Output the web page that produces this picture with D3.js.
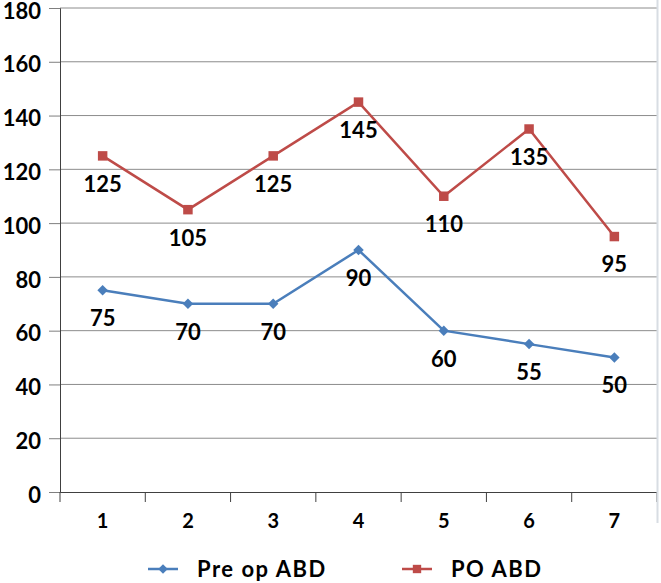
<!DOCTYPE html>
<html>
<head>
<meta charset="utf-8">
<script src="https://cdn.jsdelivr.net/npm/d3@7"></script>
<style>
  body { margin: 0; background: #fff; }
  svg text { font-family: "Comic Sans MS", Lato, "DejaVu Sans", sans-serif; font-weight: bold; fill: #000; }
</style>
</head>
<body>
<svg id="chart"></svg>
<script>
const categories = ["1", "2", "3", "4", "5", "6", "7"];
const preOp = [75, 70, 70, 90, 60, 55, 50];
const postOp = [125, 105, 125, 145, 110, 135, 95];
const yTicks = [0, 20, 40, 60, 80, 100, 120, 140, 160, 180];
const seriesNames = ["Pre op ABD", "PO ABD"];

const W = 661, H = 583;
const margin = {top: 8, right: 4, bottom: 91, left: 60};
const width = W - margin.left - margin.right;
const height = H - margin.top - margin.bottom;

const svg = d3.select("#chart").attr("width", W).attr("height", H);
const chart = svg.append("g").attr("transform", "translate(" + margin.left + "," + margin.top + ")");

const x = d3.scaleBand().domain(categories).range([0, width]);
const y = d3.scaleLinear().domain([0, 180]).range([height, 0]);

// gridlines
chart.append("g").selectAll("line")
  .data(yTicks.slice(1))
  .enter().append("line")
    .attr("x1", 0).attr("x2", width)
    .attr("y1", d => y(d)).attr("y2", d => y(d))
    .attr("stroke", "#8c8c8c").attr("stroke-width", 1);

// right border
svg.append("line")
  .attr("x1", W - 3.5).attr("x2", W - 3.5).attr("y1", 0).attr("y2", H - 60)
  .attr("stroke", "#d8dde3").attr("stroke-width", 2);

// y axis
const yAxis = chart.append("g")
  .call(d3.axisLeft(y).tickValues(yTicks).tickSize(11).tickPadding(8));
yAxis.select(".domain").attr("stroke", "#404040");
yAxis.selectAll(".tick line").attr("stroke", "#7f7f7f");
yAxis.selectAll("text").style("font-size", "22px").attr("dy", "0.46em");

// x axis
const xAxis = chart.append("g")
  .attr("transform", "translate(0," + height + ")")
  .call(d3.axisBottom(x).tickSize(0).tickPadding(22));
xAxis.select(".domain").attr("stroke", "#404040");
xAxis.selectAll("text").style("font-size", "20px");
chart.append("g").selectAll("line")
  .data(d3.range(categories.length + 1))
  .enter().append("line")
    .attr("x1", i => i * x.step()).attr("x2", i => i * x.step())
    .attr("y1", height).attr("y2", height + 10)
    .attr("stroke", "#404040");

const cx = d => x(d) + x.bandwidth() / 2;

function marker(sel, diamond, size) {
  sel.attr("d", d3.symbol().type(d3.symbolSquare).size(size))
    .attr("transform", function() {
      const t = d3.select(this).attr("transform") || "";
      return t + (diamond ? " rotate(45)" : "");
    });
}

function drawSeries(values, color, diamond, name) {
  const g = chart.append("g").attr("class", name);
  g.append("path")
    .datum(values)
    .attr("fill", "none")
    .attr("stroke", color)
    .attr("stroke-width", 2.5)
    .attr("d", d3.line().x((d, i) => cx(categories[i])).y(d => y(d)));
  g.selectAll("path.mark")
    .data(values)
    .enter().append("path")
      .attr("class", "mark")
      .attr("transform", (d, i) => "translate(" + cx(categories[i]) + "," + y(d) + ")")
      .attr("fill", color)
      .call(marker, diamond, diamond ? 55 : 90);
  g.selectAll("text")
    .data(values)
    .enter().append("text")
      .attr("x", (d, i) => cx(categories[i]))
      .attr("y", d => y(d) + 28)
      .attr("dy", "0.36em")
      .attr("text-anchor", "middle")
      .style("font-size", "22px")
      .text(d => d);
}

drawSeries(preOp, "#4a7ebb", true, "pre");
drawSeries(postOp, "#be4b48", false, "post");

// legend
const legend = svg.append("g").attr("transform", "translate(0,569)");
const legendItems = [
  {name: seriesNames[0], color: "#4a7ebb", diamond: true, x: 148},
  {name: seriesNames[1], color: "#be4b48", diamond: false, x: 402}
];
const li = legend.selectAll("g").data(legendItems).enter().append("g")
  .attr("transform", d => "translate(" + d.x + ",0)");
li.append("line").attr("x1", 0).attr("x2", 30).attr("y1", 0).attr("y2", 0)
  .attr("stroke", d => d.color).attr("stroke-width", 2.5);
li.each(function(d) {
  d3.select(this).append("path")
    .attr("transform", "translate(15,0)")
    .attr("fill", d.color)
    .call(marker, d.diamond, d.diamond ? 45 : 70);
});
li.append("text").attr("x", 49).attr("y", 0).attr("dy", "0.36em")
  .style("font-size", "22px").style("letter-spacing", "1.5px").text(d => d.name);
</script>
</body>
</html>
